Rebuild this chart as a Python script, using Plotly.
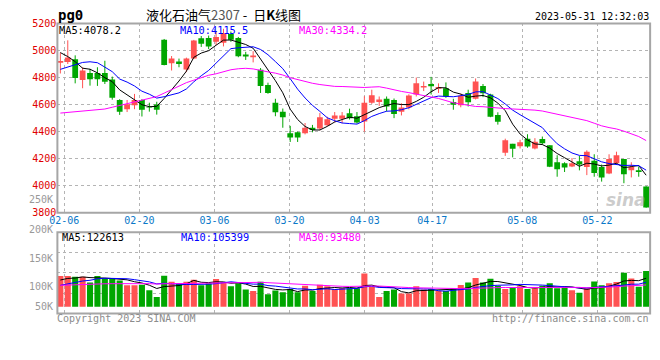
import plotly.graph_objects as go

# ---------------- data ----------------
dates = ["02-03",
         "02-06", "02-07", "02-08", "02-09", "02-10", "02-13", "02-14", "02-15", "02-16", "02-17",
         "02-20", "02-21", "02-22", "02-23", "02-24", "02-27", "02-28", "03-01", "03-02", "03-03",
         "03-06", "03-07", "03-08", "03-09", "03-10", "03-13", "03-14", "03-15", "03-16", "03-17",
         "03-20", "03-21", "03-22", "03-23", "03-24", "03-27", "03-28", "03-29", "03-30", "03-31",
         "04-03", "04-04", "04-06", "04-07", "04-10", "04-11", "04-12", "04-13", "04-14",
         "04-17", "04-18", "04-19", "04-20", "04-21", "04-24", "04-25", "04-26", "04-27", "04-28",
         "05-04", "05-05",
         "05-08", "05-09", "05-10", "05-11", "05-12", "05-15", "05-16", "05-17", "05-18", "05-19",
         "05-22", "05-23", "05-24", "05-25", "05-26", "05-29", "05-30", "05-31"]

open_ = [4910, 4915, 4936, 4781, 4834, 4834, 4834, 4786, 4634, 4566,
         4595, 4634, 4580, 4600, 5079, 4905, 4919, 4859, 4940, 5090,
         5093, 5064, 5057, 5121, 5093, 4971, 4950, 4857, 4745, 4614,
         4548, 4388, 4395, 4388, 4429, 4424, 4448, 4495, 4495, 4536,
         4514, 4476, 4614, 4619, 4643, 4634, 4548, 4578, 4674, 4726,
         4752, 4717, 4721, 4619, 4595, 4686, 4643, 4738, 4674, 4524,
         4245, 4310, 4293, 4348, 4276, 4345, 4300, 4174, 4167, 4143,
         4181, 4138, 4186, 4138, 4090, 4167, 4198, 4114, 4114, 3995]
high = [4985, 5075, 4964, 4876, 4864, 4876, 4924, 4807, 4640, 4634,
        4679, 4640, 4614, 4621, 5085, 4959, 4940, 4947, 5078, 5107,
        5110, 5140, 5160, 5140, 5100, 4990, 4995, 4870, 4762, 4643,
        4571, 4443, 4400, 4464, 4450, 4538, 4510, 4545, 4545, 4570,
        4545, 4662, 4710, 4660, 4660, 4645, 4610, 4676, 4800, 4770,
        4805, 4757, 4764, 4643, 4680, 4710, 4793, 4752, 4680, 4543,
        4348, 4310, 4340, 4381, 4352, 4364, 4300, 4226, 4174, 4205,
        4221, 4262, 4233, 4157, 4233, 4252, 4198, 4174, 4143, 3998]
low = [4830, 4900, 4757, 4721, 4740, 4738, 4752, 4636, 4524, 4545,
       4566, 4512, 4548, 4526, 4890, 4852, 4876, 4840, 4936, 5026,
       5010, 5040, 5030, 5064, 4950, 4930, 4912, 4686, 4680, 4514,
       4429, 4324, 4324, 4380, 4395, 4410, 4440, 4470, 4462, 4490,
       4460, 4400, 4605, 4590, 4550, 4500, 4520, 4565, 4660, 4700,
       4674, 4686, 4650, 4562, 4580, 4586, 4638, 4655, 4507, 4452,
       4221, 4210, 4276, 4281, 4269, 4305, 4138, 4067, 4102, 4138,
       4114, 4079, 4067, 4031, 4086, 4162, 4019, 4062, 4067, 3838]
close = [4922, 4948, 4797, 4852, 4788, 4788, 4769, 4650, 4548, 4602,
         4634, 4562, 4576, 4562, 4893, 4940, 4900, 4940, 5074, 5050,
         5029, 5100, 5129, 5079, 4957, 4955, 4962, 4738, 4686, 4543,
         4507, 4357, 4357, 4429, 4412, 4507, 4491, 4519, 4519, 4500,
         4467, 4614, 4669, 4638, 4586, 4531, 4578, 4667, 4757, 4738,
         4735, 4730, 4659, 4599, 4666, 4618, 4771, 4683, 4511, 4473,
         4337, 4273, 4321, 4290, 4326, 4314, 4140, 4123, 4135, 4167,
         4157, 4252, 4095, 4062, 4198, 4226, 4086, 4138, 4102, 3839]
volume = [132500, 132500, 129000, 129000, 104000, 132500, 122000, 119000, 113000, 92000,
          92000, 94500, 71000, 42000, 133500, 108000, 101500, 108000, 116500, 92000,
          101500, 119000, 105000, 87500, 101500, 74000, 67000, 108000, 54000, 69500,
          62500, 76000, 62500, 90000, 67000, 94000, 87500, 75000, 79000, 79000,
          79000, 143000, 84500, 41500, 67000, 74000, 57000, 57000, 87500, 74000,
          76000, 67000, 67000, 79000, 93000, 104000, 124000, 104000, 120000, 90000,
          76000, 83500, 87500, 76000, 79000, 90000, 100500, 79000, 84500, 70410,
          60000, 79000, 108500, 92000, 101425, 106000, 146000, 121000, 86000, 154065]
# closes / volumes of the 29 sessions before the window (estimated from the MA lines)
prior_close = [4798, 4647, 4702, 4638, 4638, 4619, 4256, 4154, 4208, 4240,
               4168, 4182, 4168, 4121, 4168, 4128, 4168, 4527, 4503, 4482,
               4778, 4627, 4682, 4738, 4858, 5095, 4987, 5092, 4826]
prior_volume = [85000, 97000, 104000, 88000, 79000, 93000, 110000, 96000, 82000, 90000,
                101000, 87000, 94000, 78000, 99000, 106000, 88000, 83000, 92000, 88000,
                62000, 75000, 68000, 71000, 69000, 98000, 121000, 105000, 118500]
tick_dates = ["02-06", "02-20", "03-06", "03-20", "04-03", "04-17", "05-08", "05-22"]
price_ticks = [3800, 4000, 4200, 4400, 4600, 4800, 5000, 5200]
vol_labels = ["250K", "200K", "150K", "100K", "50K"]

# ---------------- helpers ----------------
W, H = 660, 360
RED, GREEN = "#ff5252", "#00a600"
GRID = "#b4b4b4"
FRAME = "#a6a6a6"
MONO = "DejaVu Sans Mono, monospace"


def px(x):
    return x / W


def py(y):
    return 1 - y / H


def moving_average(series, prior, k):
    full = list(prior) + list(series)
    off = len(prior)
    return [sum(full[off + i - k + 1: off + i + 1]) / k for i in range(len(series))]


n = len(close)
xs = list(range(n))
ma5 = moving_average(close, prior_close, 5)
ma10 = moving_average(close, prior_close, 10)
ma30 = moving_average(close, prior_close, 30)
vma5 = moving_average(volume, prior_volume, 5)
vma10 = moving_average(volume, prior_volume, 10)
vma30 = moving_average(volume, prior_volume, 30)

# pixel geometry of the plot areas
X_LEFT, X_RIGHT = 50, 650
C0, PITCH = 53.0, 7.506          # centre of first candle, candle pitch (px)
GRID_PITCH, GRID0 = 7.6, 57.0    # vertical grid lines (px)
xr = [(X_LEFT - C0) / PITCH, (X_RIGHT - C0) / PITCH]
tick_idx = [dates.index(d) for d in tick_dates]
tickvals = [(GRID0 + (k - 1) * GRID_PITCH - C0) / PITCH for k in tick_idx]

MAIN_TOP, MAIN_BOT = 18, 214
VOL_TOP, VOL_BOT, VOL_BASE = 234, 318, 311
VPP = 4175.0  # volume per pixel
vr = [-(VOL_BOT - VOL_BASE) * VPP, (VOL_BASE - VOL_TOP) * VPP]
vgrid = [vr[0] + k * (vr[1] - vr[0]) / 4 for k in (1, 2, 3)]

fig = go.Figure()

# ---------------- candles ----------------
up = [c >= o for o, c in zip(open_, close)]
for flag, col in ((True, RED), (False, GREEN)):
    idx = [i for i in xs if up[i] == flag]
    wx, wy = [], []
    for i in idx:
        wx += [i, i, None]
        wy += [low[i], high[i], None]
    fig.add_trace(go.Scatter(x=wx, y=wy, mode="lines", line=dict(color=col, width=1),
                             hoverinfo="skip", showlegend=False, xaxis="x", yaxis="y"))
    fig.add_trace(go.Bar(x=idx, y=[max(abs(close[i] - open_[i]), 3) for i in idx],
                         base=[min(open_[i], close[i]) for i in idx], width=0.78,
                         marker=dict(color=col, line=dict(width=0)),
                         showlegend=False, xaxis="x", yaxis="y"))
    fig.add_trace(go.Bar(x=idx, y=[volume[i] for i in idx], width=0.82,
                         marker=dict(color=col, line=dict(width=0)),
                         showlegend=False, xaxis="x2", yaxis="y2"))

for series, col, ax in ((ma5, "black", "y"), (ma10, "#0000ff", "y"), (ma30, "#ff00ff", "y"),
                        (vma5, "black", "y2"), (vma10, "#0000ff", "y2"), (vma30, "#ff00ff", "y2")):
    fig.add_trace(go.Scatter(x=xs, y=series, mode="lines", line=dict(color=col, width=1),
                             showlegend=False, hoverinfo="skip",
                             xaxis="x" if ax == "y" else "x2", yaxis=ax))

# ---------------- axes ----------------
xdom = [px(X_LEFT), px(X_RIGHT)]
fig.update_layout(
    width=W, height=H, margin=dict(l=0, r=0, t=0, b=0),
    paper_bgcolor="white", plot_bgcolor="white", barmode="overlay", showlegend=False,
    xaxis=dict(domain=xdom, range=xr, anchor="y", tickvals=tickvals, ticktext=tick_dates,
               showgrid=True, gridcolor=GRID, griddash="dot", gridwidth=1, zeroline=False,
               showline=False, ticks="", tickfont=dict(family=MONO, size=10, color="#0a78c8")),
    yaxis=dict(domain=[py(MAIN_BOT), py(MAIN_TOP)], range=[3800, 5200], anchor="x",
               tickvals=price_ticks, ticktext=[str(v) for v in price_ticks],
               showgrid=True, gridcolor=GRID, griddash="dot", gridwidth=1, zeroline=False,
               showline=False, ticks="", tickfont=dict(family=MONO, size=10, color="#e00000")),
    xaxis2=dict(domain=xdom, range=xr, anchor="y2", tickvals=tickvals, showticklabels=False,
                showgrid=True, gridcolor=GRID, griddash="dot", gridwidth=1, zeroline=False,
                showline=False, ticks=""),
    yaxis2=dict(domain=[py(VOL_BOT), py(VOL_TOP)], range=vr, anchor="x2", tickvals=vgrid,
                showticklabels=False, showgrid=True, gridcolor=GRID, griddash="dot",
                gridwidth=1, zeroline=False, showline=False, ticks=""),
)

# frames
for top, bot in ((MAIN_TOP, MAIN_BOT), (VOL_TOP, VOL_BOT)):
    fig.add_shape(type="rect", xref="paper", yref="paper", x0=px(X_LEFT), x1=px(X_RIGHT),
                  y0=py(bot), y1=py(top), line=dict(color=FRAME, width=2), layer="above")

# ---------------- texts ----------------
PAD = 2  # annotation box padding


def text(x, y, s, color="black", size=10, anchor="left", family=MONO):
    xx = x - PAD if anchor == "left" else (x + PAD if anchor == "right" else x)
    fig.add_annotation(x=px(xx), y=py(y), xref="paper", yref="paper", text=s, showarrow=False,
                       xanchor=anchor, yanchor="middle",
                       font=dict(family=family, size=size, color=color))


text(51, 9, "<b>pg0</b>", size=14)
text(140, 9, '液化石油气<span style="color:#555">2307</span> -  日<b>K</b>线图',
     size=13, family="Noto Sans CJK SC")
text(649, 11, "2023-05-31 12:32:03", anchor="right")
text(52, 25, f"MA5:{ma5[-1]:.1f}", color="black", size=10.3)
text(174, 25, f"MA10:{ma10[-1]:.1f}", color="#0000ff", size=10.3)
text(295, 25, f"MA30:{ma30[-1]:.1f}", color="#ff00ff", size=10.3)
text(55, 238.5, f"MA5:{vma5[-1]:.0f}", color="black", size=10.3)
text(175, 238.5, f"MA10:{vma10[-1]:.0f}", color="#0000ff", size=10.3)
text(295, 238.5, f"MA30:{vma30[-1]:.0f}", color="#ff00ff", size=10.3)
for lab, yy in zip(vol_labels, (200, 231, 261, 290.5, 311)):
    text(46, yy, lab, color="#999999", anchor="right")
text(50, 323.5, "Copyright 2023 SINA.COM", color="#8c8c8c")
text(649, 323.5, "http://finance.sina.com.cn", color="#8c8c8c", anchor="right")
text(646, 201, "<b><i>sina</i></b>", color="rgba(160,160,160,0.55)", size=17,
     anchor="right", family="DejaVu Sans")

fig.write_html("out.html",
               config={"displayModeBar": False, "staticPlot": True},
               post_script="document.body.style.margin='0';"
                           "document.body.style.overflow='hidden';")
